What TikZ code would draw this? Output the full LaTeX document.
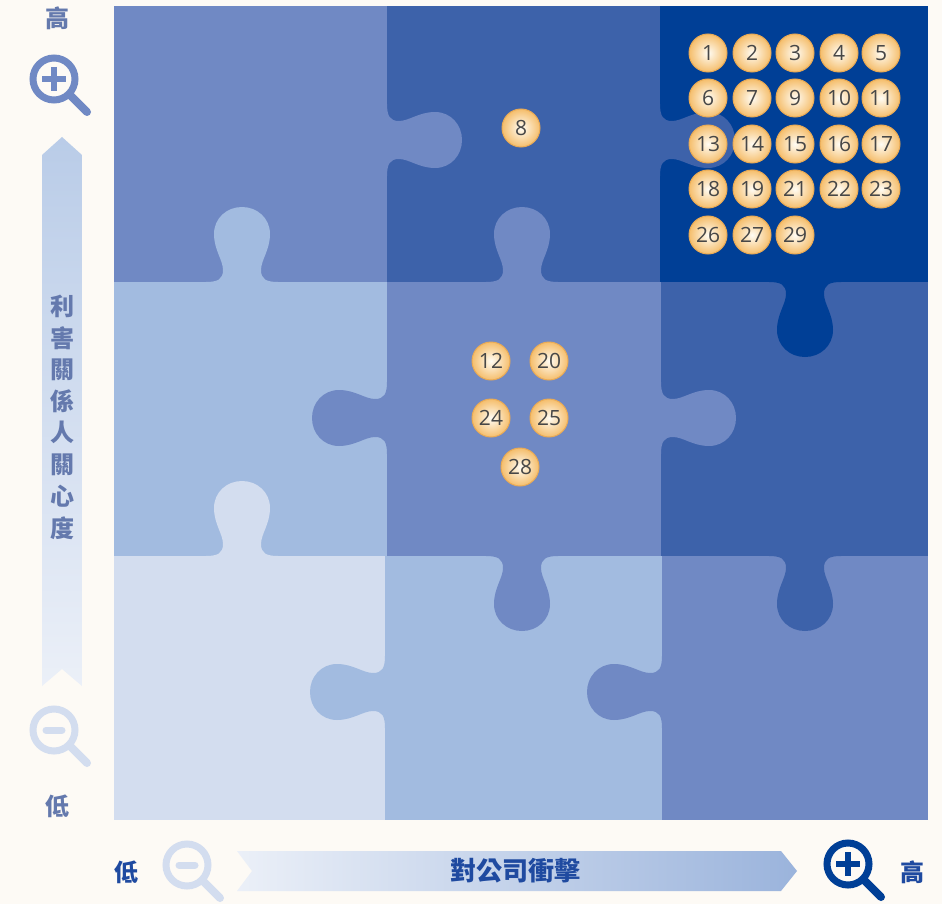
\documentclass[tikz,border=0pt]{standalone}
\usepackage{fontspec}
\newfontfamily\cjk{Noto Sans CJK TC}
\newfontfamily\numfont{Open Sans}

\definecolor{paper}{HTML}{FDFAF5}
\definecolor{tone1}{HTML}{003F96}
\definecolor{tone2}{HTML}{3D62AA}
\definecolor{tone3}{HTML}{7089C4}
\definecolor{tone4}{HTML}{A2BBE0}
\definecolor{tone5}{HTML}{D3DDEF}
\definecolor{ink}{HTML}{1F4AA0}
\definecolor{axisink}{HTML}{6479AD}
\definecolor{ballin}{HTML}{FFFCF4}
\definecolor{ballout}{HTML}{F5BE6C}
\definecolor{ballrim}{HTML}{E9AA55}

\tikzset{
  % puzzle tab, base on y=0, growing along +y
  knob/.pic={
    \fill[pic actions] (-36,-2) -- (-36,0) .. controls (-24,0) and (-19,3) .. (-19,12)
      .. controls (-19,22) and (-28,32) .. (-28,48)
      .. controls (-28,64) and (-15,75) .. (0,75)
      .. controls (15,75) and (28,64) .. (28,48)
      .. controls (28,32) and (19,22) .. (19,12)
      .. controls (19,3) and (24,0) .. (36,0) -- (36,-2) -- cycle;
  },
  lensplus/.pic={
    \draw[line width=3.5pt] (0,0) circle (21);
    \draw[line width=4pt, line cap=round] (17,17) -- (33,33);
    \draw[line width=2.6pt] (-12,0) -- (12,0) (0,-12) -- (0,12);
  },
  lensminus/.pic={
    \draw[line width=3.5pt] (0,0) circle (21);
    \draw[line width=4pt, line cap=round] (17,17) -- (33,33);
    \draw[line width=3.5pt, line cap=round] (-8,0) -- (8,0);
  },
  badge/.style={circle, minimum size=19pt, inner sep=0pt, inner color=ballin,
    outer color=ballout, draw=ballrim, line width=0.5pt, text=black!72,
    font=\numfont\fontsize{10.5}{12}\selectfont},
  axislabel/.style={font=\cjk\bfseries\fontsize{12}{14}\selectfont},
}

\begin{document}
\begin{tikzpicture}[x=0.5pt, y=-0.5pt]
  \useasboundingbox (0,0) rectangle (942,904);
  \fill[paper] (0,0) rectangle (942,904);

  % the nine pieces
  \fill[tone3] (114,6) rectangle (387,282);
  \fill[tone2] (387,6) rectangle (660,282);
  \fill[tone1] (660,6) rectangle (928,282);
  \fill[tone4] (114,282) rectangle (387,556);
  \fill[tone3] (387,282) rectangle (661,556);
  \fill[tone2] (661,282) rectangle (928,556);
  \fill[tone5] (114,556) rectangle (385,820);
  \fill[tone4] (385,556) rectangle (662,820);
  \fill[tone3] (662,556) rectangle (928,820);

  % tabs
  \pic[fill=tone3, rotate=90] at (387,140) {knob};
  \pic[fill=tone2, rotate=90] at (660,140) {knob};
  \pic[fill=tone1] at (805,282) {knob};
  \pic[fill=tone4, rotate=180] at (242,282) {knob};
  \pic[fill=tone3, rotate=180] at (522,282) {knob};
  \pic[fill=tone3, rotate=-90] at (387,418) {knob};
  \pic[fill=tone3, rotate=90] at (661,418) {knob};
  \pic[fill=tone3] at (522,556) {knob};
  \pic[fill=tone5, rotate=180] at (242,556) {knob};
  \pic[fill=tone4, rotate=-90] at (385,692) {knob};
  \pic[fill=tone3, rotate=-90] at (662,692) {knob};
  \pic[fill=tone2] at (805,556) {knob};

  % issue numbers
  \foreach \n/\x/\y in {1/708/53, 2/752/53, 3/795/53, 4/839/53, 5/881/53,
      6/708/98, 7/752/98, 9/795/98, 10/839/98, 11/881/98,
      13/708/144, 14/752/144, 15/795/144, 16/839/144, 17/881/144,
      18/708/189, 19/752/189, 21/795/189, 22/839/189, 23/881/189,
      26/708/235, 27/752/235, 29/795/235,
      8/521/128, 12/491/361, 20/549/361, 24/491/418, 25/549/418, 28/520/467}
    \node[badge] (b\n) at (\x,\y) {\n};

  % vertical axis
  \shade[top color=tone4!75, bottom color=tone5!45] (62,137) -- (82,155) -- (82,686)
    -- (62,669) -- (42,686) -- (42,155) -- cycle;
  \foreach \c [count=\i from 0] in {利,害,關,係,人,關,心,度}
    \node[axislabel, text=axisink] (v\i) at (62,306+31.7*\i) {\c};
  \node[axislabel, text=axisink] (vhigh) at (57,18) {高};
  \node[axislabel, text=axisink] (vlow) at (58,806) {低};
  \pic[color=tone3] at (54,79) {lensplus};
  \pic[color=tone5] at (54,730) {lensminus};

  % horizontal axis
  \shade[left color=tone5!45, right color=tone4!85!tone3] (237,851) -- (781,851) -- (797,871)
    -- (781,891) -- (237,891) -- (252,871) -- cycle;
  \node[axislabel, text=ink, font=\cjk\bfseries\fontsize{13}{15}\selectfont] (himpact) at (515,871) {對公司衝擊};
  \node[axislabel, text=ink] (hlow) at (126,872) {低};
  \node[axislabel, text=ink] (hhigh) at (912,872) {高};
  \pic[color=tone5] at (187,865) {lensminus};
  \pic[color=tone1] at (848,864) {lensplus};
\end{tikzpicture}
\end{document}
